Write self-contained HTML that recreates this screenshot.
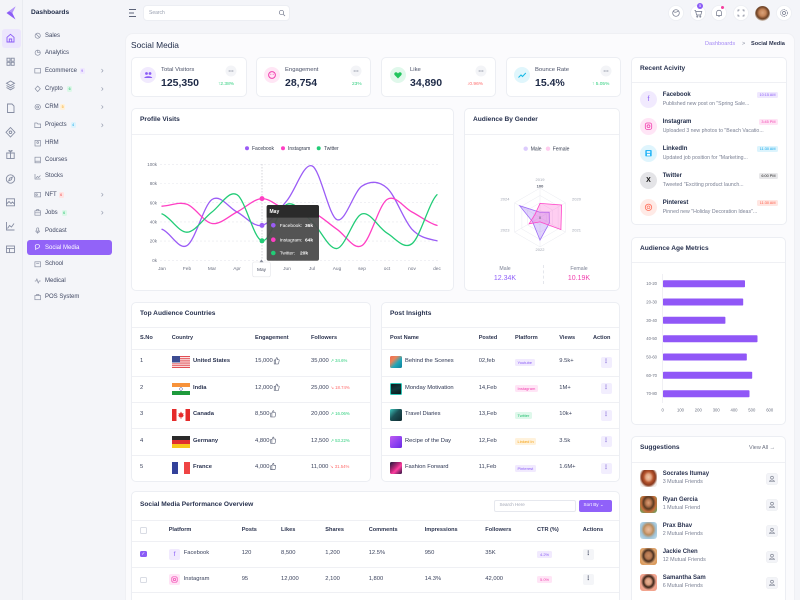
<!DOCTYPE html>
<html><head><meta charset="utf-8">
<style>
*{margin:0;padding:0;box-sizing:border-box}
html,body{width:800px;height:600px;overflow:hidden;background:#f4f5f9;font-family:"Liberation Sans","DejaVu Sans",sans-serif;color:#1e2a47}
#w{position:relative;width:800px;height:600px;overflow:hidden}
.a{position:absolute}
.t{position:absolute;line-height:1;white-space:nowrap}
.card{position:absolute;background:#fff;border:1px solid #eceef3;border-radius:5px}
.ln{position:absolute;height:1px;background:#eff0f4}
.m{position:absolute;left:45px;font-size:6px;line-height:1;color:#3f4762;white-space:nowrap}
.ct{font-size:6.6px;font-weight:700;color:#28324f}
.th{font-size:5.6px;color:#2d3550;font-weight:700}
.td{font-size:5.8px;color:#3a425c}
.bd{position:absolute;font-size:4px;line-height:7px;height:7px;padding:0 2.5px;border-radius:1.5px;white-space:nowrap}
.ab{position:absolute;width:11px;height:11px;border-radius:2px;background:#f2eefe;color:#8c73d9;font-size:6px;line-height:11px;text-align:center;font-weight:700}
.bg{position:absolute;font-size:3.8px;line-height:6.5px;height:6.5px;padding:0 2.5px;border-radius:1.5px;white-space:nowrap}
</style></head><body><div id="w">

<!-- rail -->
<div class="a" style="left:0;top:0;width:23px;height:600px;background:#f3f4f8;border-right:1px solid #e9ebf0"></div>
<div class="a" style="left:2px;top:29px;width:19px;height:19px;border-radius:3px;background:#ece6fd"></div>
<svg class="a" style="left:0;top:0" width="23" height="600" fill="none" stroke="#868da2" stroke-width="0.9">
<path d="M15.5 6.5 L6.5 13 L15.5 19.5 L12.3 13 Z" fill="#8b5cf6" stroke="none"/>
<path d="M15.5 6.5 L9 11.2 L12.3 13 Z" fill="#b596fb" stroke="none"/>
<path d="M7 42 V37.3 L10.5 34.3 L14 37.3 V42 Z" stroke="#8b5cf6"/><path d="M9.3 42 V39 H11.7 V42" stroke="#8b5cf6"/>
<rect x="7" y="58.2" width="3" height="3"/><rect x="11.2" y="58.2" width="3" height="3"/><rect x="7" y="62.3" width="3" height="3"/><rect x="11.2" y="62.3" width="3" height="3"/>
<path d="M10.5 81 L14.5 83.3 L10.5 85.6 L6.5 83.3 Z"/><path d="M6.5 85.5 L10.5 87.8 L14.5 85.5"/><path d="M6.5 87.5 L10.5 89.8 L14.5 87.5"/>
<path d="M7.5 104 H12 L14 106 V112.5 H7.5 Z"/>
<path d="M10.5 127.5 L15 132.3 L10.5 137 L6 132.3 Z"/><circle cx="10.5" cy="132.3" r="1.3"/>
<rect x="6.8" y="153" width="7.4" height="5.5"/><path d="M6.3 153 H14.7 M10.5 151 V158.5 M10.5 151.5 C9 149.5 7.5 151 10.5 151.5 C13.5 151 12 149.5 10.5 151.5"/>
<circle cx="10.5" cy="179" r="4.2"/><path d="M12.3 177.2 L11.3 179.8 L8.7 180.8 L9.7 178.2 Z"/>
<rect x="6.5" y="198.8" width="8" height="7"/><path d="M6.5 204 L9 201.5 L11 203.5 L12.5 202 L14.5 204"/>
<path d="M6.5 222 V230 H14.5"/><path d="M7.5 228.5 L9.5 225.5 L11.5 227 L14 223.5"/>
<rect x="6.5" y="246" width="8" height="6.6"/><path d="M6.5 248.4 H14.5 M9.5 248.4 V252.6"/>
</svg>

<!-- menu -->
<div class="t" style="left:31px;top:9.8px;font-size:6.6px;font-weight:700;color:#1e2a47">Dashboards</div>
<div class="a" style="left:27px;top:240px;width:85px;height:15px;border-radius:3px;background:#9263f8"></div>
<svg class="a" style="left:0;top:0" width="125" height="310" fill="none" stroke="#8a90a3" stroke-width="0.7">
<circle cx="37.7" cy="35.7" r="2.6"/><path d="M35.9 33.9 L39.5 37.5"/>
<circle cx="37.7" cy="52.7" r="2.6"/><path d="M37.7 50.1 V52.7 H40.3"/>
<rect x="34.8" y="68.6" width="5.8" height="4.4"/>
<path d="M37.7 86 L40.3 88.8 L37.7 91.6 L35.1 88.8 Z"/>
<circle cx="37.7" cy="107" r="2.7"/><circle cx="37.7" cy="107" r="1"/>
<path d="M34.8 123 H37 L37.8 124 H40.6 V127.6 H34.8 Z"/>
<rect x="35" y="140.4" width="5.4" height="5.6"/><circle cx="37.7" cy="142.5" r="0.9"/>
<rect x="35" y="157.2" width="5.4" height="5.6"/><path d="M35 161.2 H40.4"/>
<path d="M35 174 V179 H40.6"/><path d="M36 178 L37.5 176.5 L38.6 177.5 L40.4 175.5"/>
<rect x="34.8" y="192.5" width="5.8" height="4.4"/><circle cx="36.6" cy="194.7" r="0.8"/>
<rect x="34.9" y="210.8" width="5.6" height="4.4"/><path d="M36.6 210.8 V209.6 H38.8 V210.8 M34.9 212.8 H40.5"/>
<rect x="36.7" y="227.8" width="2" height="3.6" rx="1"/><path d="M35.8 230.6 C35.8 233 39.6 233 39.6 230.6 M37.7 232.5 V233.8"/>
<path d="M35.2 246.2 C35.2 244 39.6 244 39.6 246.2 C39.6 248.2 36.8 248.4 35.6 249.4 L35.8 247.6 C35.3 247.2 35.2 246.8 35.2 246.2 Z" stroke="#fff"/>
<rect x="34.9" y="261.8" width="5.6" height="5"/><path d="M36.2 263.3 H39.2"/>
<path d="M34.8 281 H36 L36.9 279 L38.2 283 L39.2 281 H40.6"/>
<rect x="34.9" y="295.5" width="5.6" height="4.2"/><path d="M36.5 295.5 V294.5 H38.9 V295.5"/>
<g stroke="#9aa0b2" stroke-width="0.7"><path d="M101.5 69 L103 70.7 L101.5 72.4"/><path d="M101.5 87.3 L103 89 L101.5 90.7"/><path d="M101.5 105.3 L103 107 L101.5 108.7"/><path d="M101.5 123.6 L103 125.3 L101.5 127"/><path d="M101.5 193 L103 194.7 L101.5 196.4"/><path d="M101.5 211 L103 212.7 L101.5 214.4"/></g>
</svg>
<div class="m" style="top:32.7px">Sales</div>
<div class="m" style="top:49.7px">Analytics</div>
<div class="m" style="top:67.7px">Ecommerce</div>
<div class="m" style="top:86px">Crypto</div>
<div class="m" style="top:104px">CRM</div>
<div class="m" style="top:122.3px">Projects</div>
<div class="m" style="top:140.3px">HRM</div>
<div class="m" style="top:157px">Courses</div>
<div class="m" style="top:173.3px">Stocks</div>
<div class="m" style="top:191.7px">NFT</div>
<div class="m" style="top:209.7px">Jobs</div>
<div class="m" style="top:227.7px">Podcast</div>
<div class="m" style="top:244.7px;color:#fff">Social Media</div>
<div class="m" style="top:261.3px">School</div>
<div class="m" style="top:277.7px">Medical</div>
<div class="m" style="top:294.3px">POS System</div>
<div class="bd" style="left:79.5px;top:67.5px;background:#efe8fe;color:#8b5cf6;font-size:3.6px;line-height:6px;height:6px;padding:0 1.6px">9</div>
<div class="bd" style="left:67px;top:86px;background:#dcf7e8;color:#22c070;font-size:3.6px;line-height:6px;height:6px;padding:0 1.6px">6</div>
<div class="bd" style="left:60px;top:104px;background:#fff1d9;color:#f59e0b;font-size:3.6px;line-height:6px;height:6px;padding:0 1.6px">5</div>
<div class="bd" style="left:70.5px;top:122.3px;background:#dcf3fd;color:#0ea5e9;font-size:3.6px;line-height:6px;height:6px;padding:0 1.6px">4</div>
<div class="bd" style="left:58.5px;top:191.7px;background:#ffe4e4;color:#ef4444;font-size:3.6px;line-height:6px;height:6px;padding:0 1.6px">6</div>
<div class="bd" style="left:61.5px;top:209.7px;background:#dcf7e8;color:#22c070;font-size:3.6px;line-height:6px;height:6px;padding:0 1.6px">6</div>

<!-- content panel -->
<div class="a" style="left:125px;top:33px;width:670px;height:580px;background:#fbfbfd;border:1px solid #eff0f4;border-radius:8px 8px 0 0"></div>

<!-- header -->
<svg class="a" style="left:125px;top:5px" width="14" height="16" stroke="#5d6479" stroke-width="0.9"><path d="M4 4.5 H11 M4 8 H9 M4 11.5 H11"/></svg>
<div class="a" style="left:143px;top:5px;width:147px;height:16px;background:#fff;border:1px solid #eceef3;border-radius:4px"></div>
<div class="t" style="left:149px;top:10.5px;font-size:5px;color:#9aa0b0">Search</div>
<svg class="a" style="left:278px;top:9px" width="8" height="8" fill="none" stroke="#70768a" stroke-width="0.7"><circle cx="3.5" cy="3.5" r="2.2"/><path d="M5.2 5.2 L7 7"/></svg>
<svg class="a" style="left:660px;top:0" width="140" height="26" fill="none" stroke="#6e7488" stroke-width="0.7">
<g fill="#fff" stroke="#eceef3" stroke-width="0.8"><circle cx="16" cy="13" r="7.5"/><circle cx="38" cy="13" r="7.5"/><circle cx="59" cy="13" r="7.5"/><circle cx="81" cy="13" r="7.5"/><circle cx="124" cy="13" r="7.5"/></g>
<circle cx="16" cy="13" r="3.3"/><path d="M13.5 11.5 C15 13 17 12 18.5 11"/>
<path d="M34.5 10.5 H35.5 L36.6 15 H40.8 L41.8 11.5 H36"/><circle cx="37.3" cy="16.6" r="0.6"/><circle cx="40.3" cy="16.6" r="0.6"/>
<path d="M56.6 15.5 V12.5 C56.6 9.5 61.4 9.5 61.4 12.5 V15.5 Z M58.3 16.7 H59.7"/>
<path d="M78 11.5 V10 H79.5 M82.5 10 H84 V11.5 M84 14.5 V16 H82.5 M79.5 16 H78 V14.5"/>
<circle cx="124" cy="13" r="1.5"/><circle cx="124" cy="13" r="3.4" stroke-dasharray="1.4 0.8"/>
</svg>
<div class="a" style="left:697px;top:2.5px;width:6px;height:6px;border-radius:50%;background:#8b5cf6;color:#fff;font-size:3.8px;line-height:6px;text-align:center">5</div>
<div class="a" style="left:720.5px;top:6px;width:3px;height:3px;border-radius:50%;background:#f43f9e"></div>
<div class="a" style="left:754.5px;top:5.5px;width:15px;height:15px;border-radius:50%;background:radial-gradient(circle at 50% 45%,#d9a27a 0,#c48458 30%,#6b3f22 55%,#e9e3dc 75%)"></div>

<!-- title -->
<div class="t" style="left:131px;top:40.8px;font-size:8.4px;color:#1e2a47">Social Media</div>
<div class="t" style="left:705px;top:42px;font-size:5.6px;color:#a58af5">Dashboards</div>
<div class="t" style="left:742px;top:42px;font-size:5.6px;color:#8a90a2">&gt;</div>
<div class="t" style="left:751px;top:42px;font-size:5.6px;font-weight:700;color:#2d3550">Social Media</div>

<!-- stat cards -->
<div class="card" style="left:131px;top:57px;width:116px;height:40px"></div>
<div class="card" style="left:256px;top:57px;width:115px;height:40px"></div>
<div class="card" style="left:381px;top:57px;width:115px;height:40px"></div>
<div class="card" style="left:506px;top:57px;width:115px;height:40px"></div>
<div class="a" style="left:140px;top:67px;width:16px;height:16px;border-radius:50%;background:#f1eafe"></div>
<div class="a" style="left:264px;top:67px;width:16px;height:16px;border-radius:50%;background:#ffe6f5"></div>
<div class="a" style="left:390px;top:67px;width:16px;height:16px;border-radius:50%;background:#e0f8eb"></div>
<div class="a" style="left:514px;top:67px;width:16px;height:16px;border-radius:50%;background:#e0f6fc"></div>
<svg class="a" style="left:0;top:0" width="640" height="100">
<circle cx="146.5" cy="73.5" r="1.4" fill="#8b5cf6"/><circle cx="150" cy="73.5" r="1.4" fill="#8b5cf6"/><path d="M144.3 78 C144.3 75.6 152.2 75.6 152.2 78 Z" fill="#8b5cf6"/>
<circle cx="272" cy="75" r="3.4" fill="none" stroke="#f13fae" stroke-width="1"/><circle cx="270.8" cy="74.3" r="0.5" fill="#f13fae"/><circle cx="273.2" cy="74.3" r="0.5" fill="#f13fae"/>
<path d="M398 78.5 L394.8 75.3 C393.6 74 394.6 72 396.3 72.3 C397.2 72.5 397.7 73 398 73.6 C398.3 73 398.8 72.5 399.7 72.3 C401.4 72 402.4 74 401.2 75.3 Z" fill="#22c55e"/>
<path d="M518.5 77.5 L521 75 L522.5 76.5 L525.8 73" fill="none" stroke="#14b8e6" stroke-width="1"/>
<g fill="#f3f4f7"><circle cx="231" cy="71" r="5.5"/><circle cx="356" cy="71" r="5.5"/><circle cx="481" cy="71" r="5.5"/><circle cx="606" cy="71" r="5.5"/></g>
<g fill="#5c6378"><circle cx="229.2" cy="71" r="0.55"/><circle cx="231" cy="71" r="0.55"/><circle cx="232.8" cy="71" r="0.55"/><circle cx="354.2" cy="71" r="0.55"/><circle cx="356" cy="71" r="0.55"/><circle cx="357.8" cy="71" r="0.55"/><circle cx="479.2" cy="71" r="0.55"/><circle cx="481" cy="71" r="0.55"/><circle cx="482.8" cy="71" r="0.55"/><circle cx="604.2" cy="71" r="0.55"/><circle cx="606" cy="71" r="0.55"/><circle cx="607.8" cy="71" r="0.55"/></g>
</svg>
<div class="t" style="left:161px;top:68px;font-size:5.9px;color:#4a5168">Total Visitors</div>
<div class="t" style="left:161px;top:77.7px;font-size:10.5px;font-weight:700">125,350</div>
<div class="t" style="left:218px;top:82.5px;font-size:4.8px;color:#2fcf7e">↑2.38%</div>
<div class="t" style="left:285px;top:68px;font-size:5.9px;color:#4a5168">Engagement</div>
<div class="t" style="left:285px;top:77.7px;font-size:10.5px;font-weight:700">28,754</div>
<div class="t" style="left:352px;top:82.5px;font-size:4.8px;color:#2fcf7e">23%</div>
<div class="t" style="left:410px;top:68px;font-size:5.9px;color:#4a5168">Like</div>
<div class="t" style="left:410px;top:77.7px;font-size:10.5px;font-weight:700">34,890</div>
<div class="t" style="left:467px;top:82.5px;font-size:4.8px;color:#ff6b6b">↓0.96%</div>
<div class="t" style="left:535px;top:68px;font-size:5.9px;color:#4a5168">Bounce Rate</div>
<div class="t" style="left:535px;top:77.7px;font-size:10.5px;font-weight:700">15.4%</div>
<div class="t" style="left:592px;top:82.5px;font-size:4.8px;color:#2fcf7e">↑ 5.05%</div>

<!-- Recent activity -->
<div class="card" style="left:631px;top:57px;width:156px;height:168px"></div>
<div class="t ct" style="left:640px;top:65.5px">Recent Acivity</div>
<div class="ln" style="left:632px;top:82px;width:154px"></div>
<div class="a" style="left:640px;top:90.8px;width:17px;height:17px;border-radius:50%;background:#f1eafe;color:#8b5cf6;font-size:7px;line-height:17px;text-align:center">f</div>
<div class="a" style="left:640px;top:117.8px;width:17px;height:17px;border-radius:50%;background:#ffe5f6"></div>
<div class="a" style="left:640px;top:144.8px;width:17px;height:17px;border-radius:50%;background:#dff5fd"></div>
<div class="a" style="left:640px;top:171.8px;width:17px;height:17px;border-radius:50%;background:#e4e4e7;color:#111;font-size:7px;font-weight:700;line-height:17px;text-align:center">X</div>
<div class="a" style="left:640px;top:198.8px;width:17px;height:17px;border-radius:50%;background:#ffeae6"></div>
<svg class="a" style="left:640px;top:90px" width="17" height="130" fill="none">
<rect x="5.3" y="33" width="6.4" height="6.4" rx="1.8" stroke="#f13fae" stroke-width="0.8"/><circle cx="8.5" cy="36.2" r="1.4" stroke="#f13fae" stroke-width="0.8"/>
<rect x="5.3" y="60" width="6.4" height="6.4" rx="0.8" fill="#29b6f6"/><rect x="6.8" y="61.2" width="3.4" height="1.6" fill="#fff"/><rect x="7" y="63.8" width="3" height="1.8" fill="#fff"/>
<circle cx="8.5" cy="117.3" r="3.2" stroke="#ff6a55" stroke-width="0.8"/><circle cx="8.5" cy="117.3" r="1.4" stroke="#ff6a55" stroke-width="0.6"/>
</svg>
<div class="t" style="left:662.7px;top:92px;font-size:6px;font-weight:700">Facebook</div>
<div class="t" style="left:662.7px;top:102.3px;font-size:5.2px;color:#7b8194">Published new post on "Spring Sale...</div>
<div class="t" style="left:662.7px;top:119px;font-size:6px;font-weight:700">Instagram</div>
<div class="t" style="left:662.7px;top:129.3px;font-size:5.2px;color:#7b8194">Uploaded 3 new photos to "Beach Vacatio...</div>
<div class="t" style="left:662.7px;top:146px;font-size:6px;font-weight:700">LinkedIn</div>
<div class="t" style="left:662.7px;top:156.3px;font-size:5.2px;color:#7b8194">Updated job position for "Marketing...</div>
<div class="t" style="left:662.7px;top:173px;font-size:6px;font-weight:700">Twitter</div>
<div class="t" style="left:662.7px;top:183.3px;font-size:5.2px;color:#7b8194">Tweeted "Exciting product launch...</div>
<div class="t" style="left:662.7px;top:200px;font-size:6px;font-weight:700">Pinterest</div>
<div class="t" style="left:662.7px;top:210.3px;font-size:5.2px;color:#7b8194">Pinned new "Holiday Decoration Ideas"...</div>
<div class="bg" style="right:22px;top:91.5px;background:#efe8fe;color:#8b5cf6">10:15 AM</div>
<div class="bg" style="right:22px;top:118.5px;background:#ffe4f5;color:#f13fae">3:45 PM</div>
<div class="bg" style="right:22px;top:145.5px;background:#dcf4fd;color:#0ea5e9">11:30 AM</div>
<div class="bg" style="right:22px;top:172.5px;background:#e8e8ea;color:#222">6:00 PM</div>
<div class="bg" style="right:22px;top:199.5px;background:#ffe6e2;color:#ff5a45">11:30 AM</div>

<!-- Profile visits -->
<div class="card" style="left:131px;top:108px;width:323px;height:183px"></div>
<div class="t ct" style="left:140px;top:116.6px">Profile Visits</div>
<div class="ln" style="left:132px;top:133.5px;width:321px"></div>

<!-- Audience by gender -->
<div class="card" style="left:464px;top:108px;width:156px;height:183px"></div>
<div class="t ct" style="left:473px;top:116.6px">Audience By Gender</div>
<div class="ln" style="left:465px;top:133.5px;width:154px"></div>
<div class="t" style="left:505px;top:266.5px;font-size:5.2px;color:#7b8194;transform:translateX(-50%)">Male</div>
<div class="t" style="left:505px;top:275px;font-size:7px;color:#9061f9;transform:translateX(-50%)">12.34K</div>
<div class="t" style="left:579px;top:266.5px;font-size:5.2px;color:#7b8194;transform:translateX(-50%)">Female</div>
<div class="t" style="left:579px;top:275px;font-size:7px;color:#f13fae;transform:translateX(-50%)">10.19K</div>
<div class="a" style="left:542.5px;top:265px;width:0;height:19px;border-left:1px dashed #e4e6ec"></div>

<!-- Age metrics -->
<div class="card" style="left:631px;top:237px;width:155px;height:188px"></div>
<div class="t ct" style="left:640px;top:245.6px">Audience Age Metrics</div>
<div class="ln" style="left:632px;top:262px;width:153px"></div>

<!-- Charts SVG -->
<svg class="a" style="left:0;top:0" width="800" height="600" font-family="Liberation Sans, sans-serif">
<circle cx="247" cy="148.3" r="2" fill="#9b5cf6"/><text x="252" y="150" font-size="5" fill="#333a4d">Facebook</text>
<circle cx="283" cy="148.3" r="2" fill="#ff3fc4"/><text x="288" y="150" font-size="5" fill="#333a4d">Instagram</text>
<circle cx="318.7" cy="148.3" r="2" fill="#22cc77"/><text x="324" y="150" font-size="5" fill="#333a4d">Twitter</text>
<g stroke="#e6e7ed" stroke-width="0.6" stroke-dasharray="2 2">
<line x1="160" y1="164.3" x2="440" y2="164.3"/><line x1="160" y1="183.5" x2="440" y2="183.5"/><line x1="160" y1="202.7" x2="440" y2="202.7"/><line x1="160" y1="221.9" x2="440" y2="221.9"/><line x1="160" y1="241.1" x2="440" y2="241.1"/><line x1="160" y1="260.3" x2="440" y2="260.3"/>
</g>
<g font-size="4.5" fill="#6b7080" text-anchor="end">
<text x="157" y="165.9">100k</text><text x="157" y="185.1">80k</text><text x="157" y="204.3">60k</text><text x="157" y="223.5">40k</text><text x="157" y="242.7">20k</text><text x="157" y="261.9">0k</text>
</g>
<g font-size="4.8" fill="#6b7080" text-anchor="middle">
<text x="162" y="270">Jan</text><text x="187" y="270">Feb</text><text x="212" y="270">Mar</text><text x="237" y="270">Apr</text><text x="287" y="270">Jun</text><text x="312" y="270">Jul</text><text x="337" y="270">Aug</text><text x="362" y="270">sep</text><text x="387" y="270">oct</text><text x="412" y="270">nov</text><text x="437" y="270">dec</text>
</g>
<line x1="262" y1="164" x2="262" y2="260" stroke="#b8bac2" stroke-width="0.6" stroke-dasharray="1.5 1.5"/>
<g fill="none" stroke-width="1.3" stroke-linecap="round">
<path stroke="#9b5cf6" d="M162,229.3 C170.3,232 178.7,250.6 187,245.6 S203.7,205.1 212,199.5 S228.7,207.7 237,212 S253.7,227.4 262,225.4 S278.7,210.4 287,200.5 S303.7,162.7 312,165.9 S328.7,216.3 337,219.7 S353.7,191.4 362,186.1 S378.7,180.8 387,188 S403.7,220.5 412,229.3 S428.7,238.9 437,240.8"/>
<path stroke="#ff3fc4" d="M162,206.2 C170.3,205.9 178.7,201.4 187,204.3 S203.7,222.2 212,223.5 S228.7,216.2 237,212 S253.7,198.9 262,198.6 S278.7,207.8 287,210.1 S303.7,208.8 312,212 S328.7,223.7 337,229.3 S353.7,250.6 362,245.6 S378.7,205.1 387,199.5 S403.7,207.7 412,212 S428.7,223.2 437,225.4"/>
<path stroke="#22cc77" d="M162,213.9 C170.3,216.9 178.7,232.5 187,232.2 S203.7,218.2 212,212 S228.7,189.9 237,194.7 S253.7,239.2 262,240.8 S278.7,207.5 287,204.3 S303.7,214.2 312,221.6 S328.7,249.8 337,248.5 S353.7,216.5 362,213.9 S378.7,228.2 387,233.1 S403.7,250.1 412,243.7 S428.7,203 437,194.7"/>
</g>
<circle cx="262" cy="225.4" r="2.5" fill="#9b5cf6"/><circle cx="262" cy="198.6" r="2.5" fill="#ff3fc4"/><circle cx="262" cy="240.8" r="2.5" fill="#22cc77"/>
<rect x="266.7" y="205" width="52.3" height="55.7" rx="2" fill="#4b4b4b" fill-opacity="0.95"/>
<path d="M266.7 217.6 V207 A2 2 0 0 1 268.7 205 H317 A2 2 0 0 1 319 207 V217.6 Z" fill="#2b2b2b"/>
<text x="269.5" y="213.2" font-size="5" fill="#fff" font-weight="bold">May</text>
<circle cx="273.3" cy="225.3" r="2.3" fill="#9b5cf6"/><circle cx="273.3" cy="239.7" r="2.3" fill="#ff3fc4"/><circle cx="273.3" cy="253" r="2.3" fill="#22cc77"/>
<g font-size="4.8" fill="#fff"><text x="279.7" y="227">Facebook:</text><text x="279.7" y="241.4">Instagram:</text><text x="279.7" y="254.7">Twitter:</text></g>
<g font-size="4.8" fill="#fff" font-weight="bold"><text x="305" y="227">36k</text><text x="305" y="241.4">64k</text><text x="300" y="254.7">20k</text></g>
<rect x="252.7" y="262" width="17.6" height="14.8" rx="1.5" fill="#fff" stroke="#e3e4e8" stroke-width="0.6"/>
<path d="M259.5 262.2 L261.5 259.5 L263.5 262.2 Z" fill="#8a8f9c"/>
<text x="261.5" y="271" font-size="4.8" fill="#4a5063" text-anchor="middle">May</text>

<rect x="523.5" y="146.5" width="4.4" height="4.4" rx="2.2" fill="#dccbfd"/><text x="530.7" y="150.5" font-size="5" fill="#333a4d">Male</text>
<rect x="545.8" y="146.5" width="4.4" height="4.4" rx="2.2" fill="#ffcdee"/><text x="552.7" y="150.5" font-size="5" fill="#333a4d">Female</text>
<g fill="none" stroke="#e9eaf0" stroke-width="0.5">
<polygon points="540,188.1 565.5,202.8 565.5,232.2 540,246.9 514.5,232.2 514.5,202.8"/>
<polygon points="540,195.5 558.1,205.9 558.1,229 540,239.5 521.9,229 521.9,205.9"/>
<polygon points="540,202.8 552.7,210.2 552.7,224.8 540,232.2 527.3,224.8 527.3,210.2"/>
<polygon points="540,210.2 546.4,213.8 546.4,221.2 540,224.8 533.6,221.2 533.6,213.8"/>
<path d="M540 217.5 L540 188.1 M540 217.5 L565.5 202.8 M540 217.5 L565.5 232.2 M540 217.5 L540 246.9 M540 217.5 L514.5 232.2 M540 217.5 L514.5 202.8"/>
</g>
<polygon points="540,212.2 549.2,212.2 549.4,222.9 540,240.1 532.6,221.8 519.6,205.7" fill="#9b6cf6" fill-opacity="0.3" stroke="#9b6cf6" stroke-width="0.8"/>
<polygon points="540,203.4 561.6,205 560.9,229.6 540,221.9 529.1,223.8 534.9,214.6" fill="#ff5ccf" fill-opacity="0.3" stroke="#ff45c8" stroke-width="0.8"/>
<g font-size="4" fill="#a0a5b2" text-anchor="middle">
<text x="540" y="181">2019</text><text x="576.5" y="200.5">2020</text><text x="576.5" y="231.5">2021</text><text x="540" y="251">2022</text><text x="505" y="231.5">2023</text><text x="505" y="200.5">2024</text>
</g>
<text x="540" y="187.6" font-size="4" fill="#555b6c" text-anchor="middle" font-weight="bold">100</text>
<text x="540" y="219" font-size="4" fill="#555b6c" text-anchor="middle">0</text>

<line x1="662.7" y1="274" x2="662.7" y2="403" stroke="#e6e7ed" stroke-width="0.6"/>
<g fill="#9057f7">
<rect x="663" y="280.2" width="82" height="7" rx="0.8"/>
<rect x="663" y="298.5" width="80.2" height="7" rx="0.8"/>
<rect x="663" y="316.8" width="62.4" height="7" rx="0.8"/>
<rect x="663" y="335.2" width="94.5" height="7" rx="0.8"/>
<rect x="663" y="353.5" width="83.8" height="7" rx="0.8"/>
<rect x="663" y="371.8" width="89.2" height="7" rx="0.8"/>
<rect x="663" y="390.2" width="86.5" height="7" rx="0.8"/>
</g>
<g font-size="4.2" fill="#6b7080" text-anchor="end">
<text x="657" y="285.2">10-20</text><text x="657" y="303.5">20-30</text><text x="657" y="321.8">30-40</text><text x="657" y="340.2">40-50</text><text x="657" y="358.5">50-60</text><text x="657" y="376.8">60-70</text><text x="657" y="395.2">70-80</text>
</g>
<g font-size="4.2" fill="#6b7080" text-anchor="middle">
<text x="662.7" y="411.5">0</text><text x="680.5" y="411.5">100</text><text x="698.3" y="411.5">200</text><text x="716.2" y="411.5">300</text><text x="734" y="411.5">400</text><text x="751.8" y="411.5">500</text><text x="769.7" y="411.5">600</text>
</g>
</svg>

<!-- Top audience countries -->
<div class="card" style="left:131px;top:302px;width:240px;height:180px"></div>
<div class="t ct" style="left:140px;top:311.3px">Top Audience Countries</div>
<div class="ln" style="left:132px;top:327px;width:238px"></div>
<div class="t th" style="left:140px;top:336px">S.No</div>
<div class="t th" style="left:171.7px;top:336px">Country</div>
<div class="t th" style="left:255px;top:336px">Engagement</div>
<div class="t th" style="left:311px;top:336px">Followers</div>
<div class="ln" style="left:132px;top:349.3px;width:238px"></div>
<div class="ln" style="left:132px;top:375.7px;width:238px"></div>
<div class="ln" style="left:132px;top:402px;width:238px"></div>
<div class="ln" style="left:132px;top:428.3px;width:238px"></div>
<div class="ln" style="left:132px;top:454.7px;width:238px"></div>

<svg class="a" style="left:171.7px;top:356.3px" width="18" height="12" viewBox="0 0 18 12"><rect width="18" height="12" rx="1.5" fill="#fff"/><g fill="#e0454b"><rect y="0" width="18" height="0.95"/><rect y="1.85" width="18" height="0.95"/><rect y="3.7" width="18" height="0.95"/><rect y="5.55" width="18" height="0.95"/><rect y="7.4" width="18" height="0.95"/><rect y="9.25" width="18" height="0.95"/><rect y="11.05" width="18" height="0.95"/></g><rect width="8" height="6.5" fill="#3d4c92"/></svg>
<svg class="a" style="left:171.7px;top:382.7px" width="18" height="12" viewBox="0 0 18 12"><rect width="18" height="4" fill="#f7923a"/><rect y="4" width="18" height="4" fill="#fff"/><rect y="8" width="18" height="4" fill="#1e9a3c"/><circle cx="9" cy="6" r="1.4" fill="none" stroke="#1a237e" stroke-width="0.4"/></svg>
<svg class="a" style="left:171.7px;top:409.3px" width="18" height="12" viewBox="0 0 18 12"><rect width="18" height="12" fill="#fff"/><rect width="4.5" height="12" fill="#e52b2b"/><rect x="13.5" width="4.5" height="12" fill="#e52b2b"/><path d="M9 2.5 L10 4.5 L11.5 4 L11 6.5 L12.3 6.2 L10.2 8.4 L9.3 8.2 V10 H8.7 V8.2 L7.8 8.4 L5.7 6.2 L7 6.5 L6.5 4 L8 4.5 Z" fill="#e52b2b"/></svg>
<svg class="a" style="left:171.7px;top:435.7px" width="18" height="12" viewBox="0 0 18 12"><rect width="18" height="4" fill="#2a2a2a"/><rect y="4" width="18" height="4" fill="#e0302f"/><rect y="8" width="18" height="4" fill="#f8c81c"/></svg>
<svg class="a" style="left:171.7px;top:462px" width="18" height="12" viewBox="0 0 18 12"><rect width="6" height="12" fill="#33419a"/><rect x="6" width="6" height="12" fill="#fff"/><rect x="12" width="6" height="12" fill="#ef4444"/></svg>

<div class="t td" style="left:140px;top:359.3px">1</div>
<div class="t td" style="left:140px;top:385.7px">2</div>
<div class="t td" style="left:140px;top:412.3px">3</div>
<div class="t td" style="left:140px;top:438.7px">4</div>
<div class="t td" style="left:140px;top:465px">5</div>
<div class="t td" style="left:193px;top:359.3px;font-weight:700;color:#2a3350">United States</div>
<div class="t td" style="left:193px;top:385.7px;font-weight:700;color:#2a3350">India</div>
<div class="t td" style="left:193px;top:412.3px;font-weight:700;color:#2a3350">Canada</div>
<div class="t td" style="left:193px;top:438.7px;font-weight:700;color:#2a3350">Germany</div>
<div class="t td" style="left:193px;top:465px;font-weight:700;color:#2a3350">France</div>
<div class="t td" style="left:255px;top:359.3px">15,000</div>
<div class="t td" style="left:255px;top:385.7px">12,000</div>
<div class="t td" style="left:255px;top:412.3px">8,500</div>
<div class="t td" style="left:255px;top:438.7px">4,800</div>
<div class="t td" style="left:255px;top:465px">4,000</div>
<svg class="a" style="left:0;top:0" width="380" height="480" fill="none" stroke="#4a5168" stroke-width="0.55">
<g id="th"><path d="M274.2 360 h1.2 v4 h-1.2z M275.4 360.2 L276.6 357.6 C277.3 357.6 277.5 358.2 277.4 358.8 L277.2 359.6 H278.7 C279.1 359.6 279.3 360 279.2 360.3 L278.6 363.6 C278.5 363.9 278.3 364 278 364 H275.4"/></g>
<use href="#th" y="26.4"/><use href="#th" x="-3.5" y="53"/><use href="#th" x="-3.5" y="79.4"/><use href="#th" x="-3.5" y="105.7"/>
</svg>
<div class="t td" style="left:311px;top:359.3px">35,000 <span style="font-size:4.3px;color:#2fcf7e">↗ 34.6%</span></div>
<div class="t td" style="left:311px;top:385.7px">25,000 <span style="font-size:4.3px;color:#ff6b6b">↘ 18.74%</span></div>
<div class="t td" style="left:311px;top:412.3px">20,000 <span style="font-size:4.3px;color:#2fcf7e">↗ 16.06%</span></div>
<div class="t td" style="left:311px;top:438.7px">12,500 <span style="font-size:4.3px;color:#2fcf7e">↗ 53.22%</span></div>
<div class="t td" style="left:311px;top:465px">11,000 <span style="font-size:4.3px;color:#ff6b6b">↘ 31.54%</span></div>

<!-- Post insights -->
<div class="card" style="left:381px;top:302px;width:239px;height:180px"></div>
<div class="t ct" style="left:390px;top:311.3px">Post Insights</div>
<div class="ln" style="left:382px;top:327px;width:237px"></div>
<div class="t th" style="left:390px;top:336px">Post Name</div>
<div class="t th" style="left:478.7px;top:336px">Posted</div>
<div class="t th" style="left:515px;top:336px">Platform</div>
<div class="t th" style="left:559.3px;top:336px">Views</div>
<div class="t th" style="left:593px;top:336px">Action</div>
<div class="ln" style="left:382px;top:349.3px;width:237px"></div>
<div class="ln" style="left:382px;top:375.7px;width:237px"></div>
<div class="ln" style="left:382px;top:402px;width:237px"></div>
<div class="ln" style="left:382px;top:428.3px;width:237px"></div>
<div class="ln" style="left:382px;top:454.7px;width:237px"></div>
<div class="a" style="left:390px;top:356.3px;width:12px;height:12px;border-radius:1.5px;background:linear-gradient(135deg,#f26b4f 0,#e8845a 30%,#22a7b8 60%,#0e7f9a 100%)"></div>
<div class="a" style="left:390px;top:382.7px;width:12px;height:12px;border-radius:1.5px;background:linear-gradient(160deg,#0c1b1f 0,#113a3c 50%,#0a1416 100%);border:0.5px solid #2ec4b6"></div>
<div class="a" style="left:390px;top:409.3px;width:12px;height:12px;border-radius:1.5px;background:linear-gradient(135deg,#3fc8c0 0,#1b5055 45%,#0f2a30 100%)"></div>
<div class="a" style="left:390px;top:435.7px;width:12px;height:12px;border-radius:1.5px;background:linear-gradient(135deg,#c05cf0 0,#8a3ff0 60%,#6a2be0 100%)"></div>
<div class="a" style="left:390px;top:462px;width:12px;height:12px;border-radius:1.5px;background:linear-gradient(135deg,#1a1a3a 0,#c2287c 45%,#ff3fa0 60%,#2a1240 100%)"></div>
<div class="t td" style="left:405px;top:359.3px;color:#2a3350">Behind the Scenes</div>
<div class="t td" style="left:405px;top:385.7px;color:#2a3350">Monday Motivation</div>
<div class="t td" style="left:405px;top:412.3px;color:#2a3350">Travel Diaries</div>
<div class="t td" style="left:405px;top:438.7px;color:#2a3350">Recipe of the Day</div>
<div class="t td" style="left:405px;top:465px;color:#2a3350">Fashion Forward</div>
<div class="t td" style="left:478.7px;top:359.3px">02,feb</div>
<div class="t td" style="left:478.7px;top:385.7px">14,Feb</div>
<div class="t td" style="left:478.7px;top:412.3px">13,Feb</div>
<div class="t td" style="left:478.7px;top:438.7px">12,Feb</div>
<div class="t td" style="left:478.7px;top:465px">11,Feb</div>
<div class="bd" style="left:515px;top:358.8px;background:#f1eafe;color:#8b5cf6">Youtube</div>
<div class="bd" style="left:515px;top:385.2px;background:#ffe5f6;color:#f13fae">Instagram</div>
<div class="bd" style="left:515px;top:411.8px;background:#dff8eb;color:#22c070">Twitter</div>
<div class="bd" style="left:515px;top:438.2px;background:#fff2dc;color:#f59e0b">Linked In</div>
<div class="bd" style="left:515px;top:464.5px;background:#f1eafe;color:#8b5cf6">Pinterest</div>
<div class="t td" style="left:559.3px;top:359.3px">9.5k+</div>
<div class="t td" style="left:559.3px;top:385.7px">1M+</div>
<div class="t td" style="left:559.3px;top:412.3px">10k+</div>
<div class="t td" style="left:559.3px;top:438.7px">3.5k</div>
<div class="t td" style="left:559.3px;top:465px">1.6M+</div>
<div class="ab" style="left:600.5px;top:356.8px">⋮</div>
<div class="ab" style="left:600.5px;top:383.2px">⋮</div>
<div class="ab" style="left:600.5px;top:409.8px">⋮</div>
<div class="ab" style="left:600.5px;top:436.2px">⋮</div>
<div class="ab" style="left:600.5px;top:462.5px">⋮</div>

<!-- Suggestions -->
<div class="card" style="left:631px;top:436px;width:155px;height:180px"></div>
<div class="t ct" style="left:640px;top:445.3px">Suggestions</div>
<div class="t" style="left:749px;top:446px;font-size:5.5px;color:#6b7080">View All &#8594;</div>
<div class="ln" style="left:632px;top:461.7px;width:153px"></div>
<div class="a" style="left:640px;top:470px;width:17px;height:17px;border-radius:3px;background:radial-gradient(ellipse at 50% 42%,#f0c7a8 0,#e2a684 22%,#b5532c 40%,#8a3a1e 58%,#f1ece8 76%)"></div>
<div class="a" style="left:640px;top:496px;width:17px;height:17px;border-radius:3px;background:radial-gradient(ellipse at 50% 40%,#d9a07a 0,#b8764f 22%,#5a3a22 42%,#c86e3c 62%,#7a9a5a 85%)"></div>
<div class="a" style="left:640px;top:522px;width:17px;height:17px;border-radius:3px;background:radial-gradient(ellipse at 50% 45%,#e8c0a0 0,#d8a57f 24%,#b88b5c 40%,#9fc3d8 62%,#b8d6e6 85%)"></div>
<div class="a" style="left:640px;top:548px;width:17px;height:17px;border-radius:3px;background:radial-gradient(ellipse at 50% 45%,#c98c62 0,#b27650 26%,#4a3020 42%,#e0a670 64%,#d89858 85%)"></div>
<div class="a" style="left:640px;top:574px;width:17px;height:17px;border-radius:3px;background:radial-gradient(ellipse at 50% 45%,#e8b598 0,#d99a7c 24%,#3a2418 42%,#f3a792 64%,#f0a08a 85%)"></div>
<div class="t" style="left:662.7px;top:471px;font-size:6px;font-weight:700;color:#2a3350">Socrates Itumay</div>
<div class="t" style="left:662.7px;top:480.3px;font-size:5.4px;color:#7b8194">3 Mutual Friends</div>
<div class="t" style="left:662.7px;top:497px;font-size:6px;font-weight:700;color:#2a3350">Ryan Gercia</div>
<div class="t" style="left:662.7px;top:506.3px;font-size:5.4px;color:#7b8194">1 Mutual Friend</div>
<div class="t" style="left:662.7px;top:523px;font-size:6px;font-weight:700;color:#2a3350">Prax Bhav</div>
<div class="t" style="left:662.7px;top:532.3px;font-size:5.4px;color:#7b8194">2 Mutual Friends</div>
<div class="t" style="left:662.7px;top:549px;font-size:6px;font-weight:700;color:#2a3350">Jackie Chen</div>
<div class="t" style="left:662.7px;top:558.3px;font-size:5.4px;color:#7b8194">12 Mutual Friends</div>
<div class="t" style="left:662.7px;top:575px;font-size:6px;font-weight:700;color:#2a3350">Samantha Sam</div>
<div class="t" style="left:662.7px;top:584.3px;font-size:5.4px;color:#7b8194">6 Mutual Friends</div>
<svg class="a" style="left:766px;top:473px" width="13" height="120" fill="none" stroke="#6b7080" stroke-width="0.55">
<g id="ub"><rect x="0.5" y="0.5" width="11" height="11" rx="2" fill="#f3f4f8" stroke="#e8e9ee"/><circle cx="6" cy="4.6" r="1.4"/><path d="M3.6 8.6 C3.6 6.5 8.4 6.5 8.4 8.6 Z"/></g>
<use href="#ub" y="26"/><use href="#ub" y="52"/><use href="#ub" y="78"/><use href="#ub" y="104"/>
</svg>

<!-- Performance overview -->
<div class="card" style="left:131px;top:491px;width:489px;height:130px"></div>
<div class="t ct" style="left:140px;top:502px">Social Media Performance Overview</div>
<div class="a" style="left:494px;top:499.5px;width:82px;height:12px;border:1px solid #e6e8ee;border-radius:2px;background:#fff"></div>
<div class="t" style="left:499.5px;top:503.3px;font-size:4.5px;color:#a3a8b6">Search Here</div>
<div class="a" style="left:579px;top:499.5px;width:33px;height:12px;border-radius:2px;background:#9061f9"></div>
<div class="t" style="left:583.5px;top:503.3px;font-size:4.6px;color:#fff">Sort By ⌄</div>
<div class="ln" style="left:132px;top:519.7px;width:487px"></div>
<div class="a" style="left:140px;top:527px;width:6.5px;height:6.5px;border:0.8px solid #d9dce4;border-radius:1.5px;background:#fff"></div>
<div class="t th" style="left:168.7px;top:527.5px">Platform</div>
<div class="t th" style="left:241.7px;top:527.5px">Posts</div>
<div class="t th" style="left:281px;top:527.5px">Likes</div>
<div class="t th" style="left:325.3px;top:527.5px">Shares</div>
<div class="t th" style="left:368.7px;top:527.5px">Comments</div>
<div class="t th" style="left:424.7px;top:527.5px">Impressions</div>
<div class="t th" style="left:485.3px;top:527.5px">Followers</div>
<div class="t th" style="left:537px;top:527.5px">CTR (%)</div>
<div class="t th" style="left:582.7px;top:527.5px">Actions</div>
<div class="ln" style="left:132px;top:541.3px;width:487px"></div>
<div class="ln" style="left:132px;top:567.3px;width:487px"></div>
<div class="ln" style="left:132px;top:592.3px;width:487px"></div>
<div class="a" style="left:140px;top:550.8px;width:6.5px;height:6.5px;border-radius:1.5px;background:#8b5cf6;color:#fff;font-size:4.5px;line-height:6.5px;text-align:center">✓</div>
<div class="a" style="left:140px;top:576.5px;width:6.5px;height:6.5px;border:0.8px solid #d9dce4;border-radius:1.5px;background:#fff"></div>
<div class="a" style="left:169px;top:548.5px;width:11px;height:11px;border-radius:2px;background:#f1eafe;color:#8b5cf6;font-size:6.5px;line-height:11px;text-align:center">f</div>
<div class="a" style="left:169px;top:574.2px;width:11px;height:11px;border-radius:2px;background:#ffe5f6"></div>
<svg class="a" style="left:169px;top:574.2px" width="11" height="11" fill="none" stroke="#f13fae" stroke-width="0.7"><rect x="2.8" y="2.8" width="5.4" height="5.4" rx="1.5"/><circle cx="5.5" cy="5.5" r="1.2"/></svg>
<div class="t td" style="left:183.7px;top:551px">Facebook</div>
<div class="t td" style="left:183.7px;top:576.7px">Instagram</div>
<div class="t td" style="left:241.7px;top:551px">120</div>
<div class="t td" style="left:241.7px;top:576.7px">95</div>
<div class="t td" style="left:281px;top:551px">8,500</div>
<div class="t td" style="left:281px;top:576.7px">12,000</div>
<div class="t td" style="left:325.3px;top:551px">1,200</div>
<div class="t td" style="left:325.3px;top:576.7px">2,100</div>
<div class="t td" style="left:368.7px;top:551px">12.5%</div>
<div class="t td" style="left:368.7px;top:576.7px">1,800</div>
<div class="t td" style="left:424.7px;top:551px">950</div>
<div class="t td" style="left:424.7px;top:576.7px">14.3%</div>
<div class="t td" style="left:485.3px;top:551px">35K</div>
<div class="t td" style="left:485.3px;top:576.7px">42,000</div>
<div class="bd" style="left:537px;top:550.5px;background:#f1eafe;color:#8b5cf6;padding:0 3px">4.2%</div>
<div class="bd" style="left:537px;top:576.2px;background:#ffe5f6;color:#f13fae;padding:0 3px">5.0%</div>
<div class="ab" style="left:582.7px;top:548.5px;background:#f4f5f8;color:#4a5168">⋮</div>
<div class="ab" style="left:582.7px;top:574.2px;background:#f4f5f8;color:#4a5168">⋮</div>

</div></body></html>
